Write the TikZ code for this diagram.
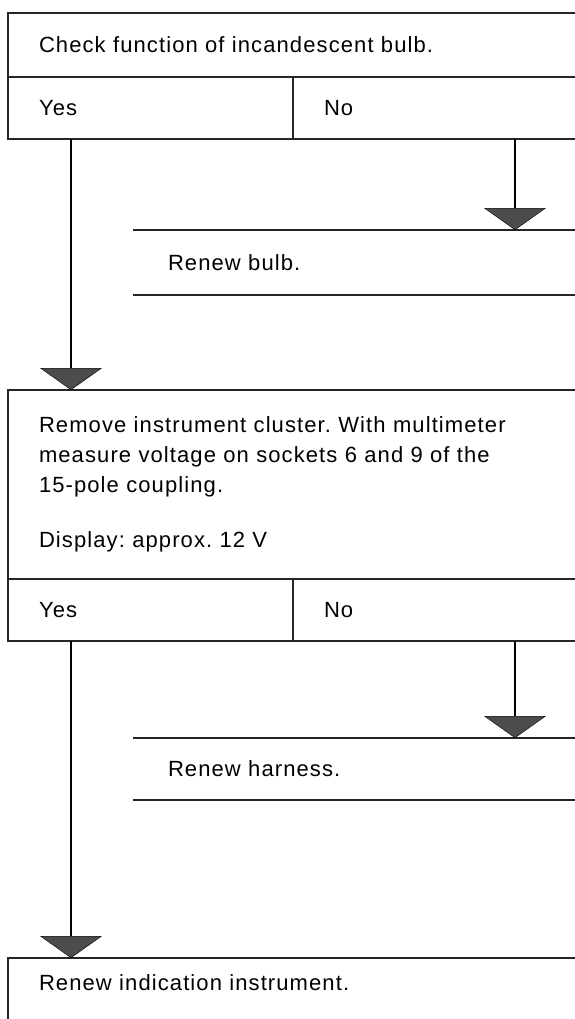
\documentclass[tikz,border=0pt]{standalone}
\usepackage{fontspec}
\setmainfont{Liberation Sans}[LetterSpace=5]
\usetikzlibrary{arrows.meta,positioning,calc}
\frenchspacing

\tikzset{
  cell/.style={draw=black!85, line width=1.8pt, anchor=north west, outer sep=0pt, inner xsep=31pt, inner ysep=0pt, align=left},
  rule/.style={draw=black!85, line width=1.8pt},
  flow/.style={line width=2.2pt, -{Triangle[width=62pt,length=22pt,line width=0.4pt,fill=black!70]}}
}

\begin{document}
\begin{tikzpicture}[x=1pt, y=-1pt, every node/.style={font=\fontsize{22}{30}\selectfont}]
  \clip (0,0) rectangle (575,1019);

  % first check
  \node[cell, text width=530pt, minimum height=64pt] (bulb) at (8,13)
    {Check function of incandescent bulb.};
  \node[cell, text width=223pt, minimum height=62pt] (bulbyes) at (bulb.south west) {Yes};
  \node[cell, text width=245pt, minimum height=62pt] (bulbno) at (bulbyes.north east) {No};

  \node[cell, draw=none, inner xsep=35pt, text width=397pt, minimum height=65pt] (newbulb) at (133,230)
    {Renew bulb.};
  \draw[rule] (newbulb.north west) -- (newbulb.north east);
  \draw[rule] (newbulb.south west) -- (newbulb.south east);

  % second check
  \node[cell, text width=530pt, minimum height=189pt] (volt) at (8,390)
    {Remove instrument cluster. With multimeter\\
     measure voltage on sockets 6 and 9 of the\\
     15-pole coupling.\\[25pt]
     Display: approx. 12 V};
  \node[cell, text width=223pt, minimum height=62pt] (voltyes) at (volt.south west) {Yes};
  \node[cell, text width=245pt, minimum height=62pt] (voltno) at (voltyes.north east) {No};

  \node[cell, draw=none, inner xsep=35pt, text width=397pt, minimum height=62pt] (harness) at (133,738)
    {Renew harness.};
  \draw[rule] (harness.north west) -- (harness.north east);
  \draw[rule] (harness.south west) -- (harness.south east);

  \node[cell, draw=none, text width=530pt, minimum height=50pt] (instr) at (8,958)
    {Renew indication instrument.};
  \draw[rule] (instr.north east) -- (instr.north west) -- ++(0,80);

  % arrows
  \coordinate (bulbout) at ([xshift=63pt]bulbyes.south west);
  \coordinate (bulbnoout) at ([xshift=222pt]bulbno.south west);
  \coordinate (voltout) at ([xshift=63pt]voltyes.south west);
  \coordinate (voltnoout) at ([xshift=222pt]voltno.south west);
  \draw[flow] (bulbnoout) -- (bulbnoout |- newbulb.north);
  \draw[flow] (bulbout) -- (bulbout |- volt.north);
  \draw[flow] (voltnoout) -- (voltnoout |- harness.north);
  \draw[flow] (voltout) -- (voltout |- instr.north);
\end{tikzpicture}
\end{document}
